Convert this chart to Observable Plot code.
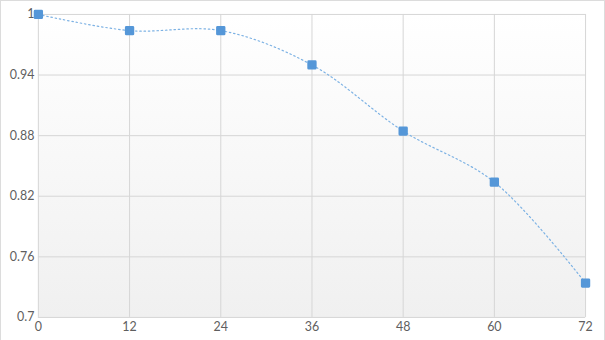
<!DOCTYPE html>
<html>
<head>
<meta charset="utf-8">
<script src="https://cdn.jsdelivr.net/npm/d3@7"></script>
<script src="https://cdn.jsdelivr.net/npm/@observablehq/plot@0.6"></script>
<style>
  html, body { margin: 0; padding: 0; background: #fff; }
  #chart { position: relative; width: 605px; height: 340px; box-sizing: border-box; border-top: 1px solid #dcdcdc; border-left: 1px solid #dcdcdc; border-right: 1px solid #dcdcdc; overflow: hidden; }
  #chart svg { position: absolute; left: -1px; top: -1px; }
</style>
</head>
<body>
<div id="chart"></div>
<script>
const months = [0, 12, 24, 36, 48, 60, 72];
const values = [1.0, 0.984, 0.984, 0.950, 0.8845, 0.834, 0.734];
const xTicks = [0, 12, 24, 36, 48, 60, 72];
const yTicks = [0.7, 0.76, 0.82, 0.88, 0.94, 1];
const yTickLabels = ["0.7", "0.76", "0.82", "0.88", "0.94", "1"];

const data = months.map((m, i) => ({x: m, y: values[i]}));

const plot = Plot.plot({
  width: 605,
  height: 340,
  marginLeft: 38,
  marginRight: 18,
  marginTop: 14,
  marginBottom: 22,
  style: {fontFamily: "Lato, sans-serif", fontSize: "12.5px", color: "#5f5f5f", background: "transparent"},
  x: {domain: [0, 72], ticks: xTicks, label: null, tickSize: 0, tickPadding: 5},
  y: {domain: [0.7, 1], ticks: yTicks, label: null, tickSize: 0, tickPadding: 4,
      tickFormat: (d) => yTickLabels[yTicks.indexOf(d)] ?? d},
  marks: [
    Plot.frame({fill: "url(#bgGrad)", stroke: null}),
    Plot.gridX(xTicks, {stroke: "#d6d6d6", strokeOpacity: 1}),
    Plot.gridY(yTicks, {stroke: "#d6d6d6", strokeOpacity: 1}),
    Plot.line(data, {x: "x", y: "y", curve: "catmull-rom", stroke: "#7db2e4", strokeWidth: 1.2, strokeDasharray: "1.5,2.8"}),
    Plot.dot(data, {x: "x", y: "y", symbol: "square", r: 3.7, fill: "#5597d8", stroke: "#5597d8", strokeWidth: 2.8, strokeLinejoin: "round"})
  ]
});

const svg = d3.select(plot);
const defs = svg.insert("defs", ":first-child");
const g = defs.append("linearGradient").attr("id", "bgGrad").attr("x1", 0).attr("y1", 0).attr("x2", 0).attr("y2", 1);
g.append("stop").attr("offset", "0%").attr("stop-color", "#ffffff");
g.append("stop").attr("offset", "100%").attr("stop-color", "#f0f0f0");

document.getElementById("chart").appendChild(plot);
</script>
</body>
</html>
